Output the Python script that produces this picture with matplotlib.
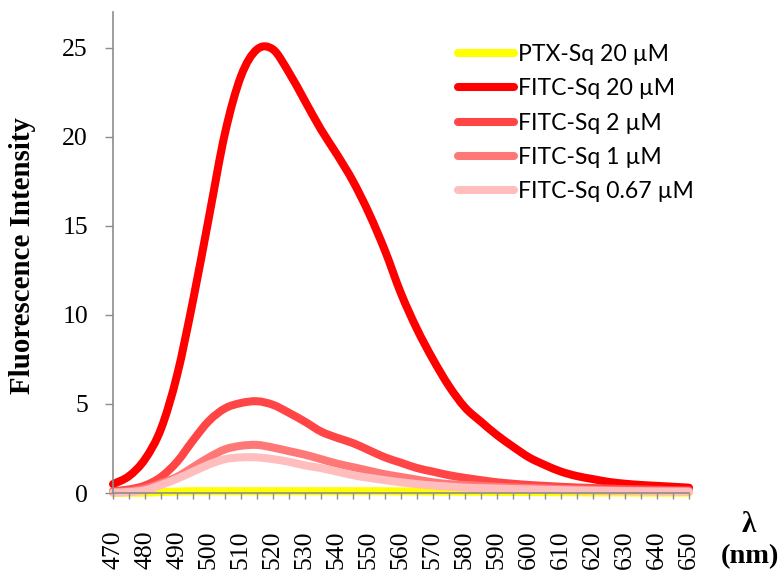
import numpy as np
import matplotlib
matplotlib.use("Agg")
import matplotlib.pyplot as plt
from matplotlib.path import Path
from matplotlib.patches import PathPatch
from matplotlib.lines import Line2D

# wavelength (nm), every 5 nm
wavelength = list(range(470, 655, 5))

ptx_20 = [0.0, 0.01, 0.02, 0.05, 0.08, 0.1, 0.1, 0.1, 0.1, 0.1, 0.1, 0.1, 0.1,
          0.1, 0.1, 0.1, 0.1, 0.1, 0.09, 0.09, 0.08, 0.08, 0.07, 0.07, 0.06, 0.06,
          0.05, 0.05, 0.04, 0.04, 0.03, 0.03, 0.03, 0.02, 0.02, 0.02, 0.02]

fitc_20 = [0.5, 0.95, 1.9, 3.6, 6.6, 10.8, 15.5, 20.2, 23.4, 24.9, 24.9, 23.6,
           22.0, 20.4, 19.0, 17.5, 15.7, 13.6, 11.2, 9.2, 7.5, 6.0, 4.8, 4.0,
           3.25, 2.6, 2.0, 1.57, 1.2, 0.95, 0.78, 0.62, 0.52, 0.45, 0.4, 0.35, 0.3]

fitc_2 = [0.1, 0.2, 0.42, 0.9, 1.75, 2.95, 4.05, 4.75, 5.05, 5.15, 4.95, 4.5, 4.0,
          3.45, 3.1, 2.8, 2.4, 2.0, 1.7, 1.4, 1.2, 1.0, 0.85, 0.72, 0.6, 0.52,
          0.45, 0.4, 0.35, 0.31, 0.28, 0.25, 0.22, 0.2, 0.18, 0.16, 0.15]

fitc_1 = [0.05, 0.1, 0.25, 0.55, 0.9, 1.45, 2.0, 2.45, 2.65, 2.7, 2.55, 2.35,
          2.15, 1.9, 1.65, 1.45, 1.25, 1.05, 0.9, 0.75, 0.6, 0.5, 0.45, 0.4,
          0.35, 0.31, 0.28, 0.25, 0.22, 0.2, 0.18, 0.16, 0.14, 0.13, 0.12, 0.11, 0.1]

fitc_067 = [0.02, 0.05, 0.15, 0.45, 0.8, 1.2, 1.6, 1.9, 2.0, 2.0, 1.9, 1.75,
            1.55, 1.4, 1.2, 1.0, 0.85, 0.72, 0.6, 0.5, 0.42, 0.36, 0.3, 0.27,
            0.25, 0.22, 0.2, 0.18, 0.16, 0.14, 0.13, 0.11, 0.1, 0.09, 0.08, 0.075, 0.07]

series = [
    ("PTX-Sq 20 µM", ptx_20, "#FFFF00"),
    ("FITC-Sq 20 µM", fitc_20, "#FF0000"),
    ("FITC-Sq 2 µM", fitc_2, "#FF4545"),
    ("FITC-Sq 1 µM", fitc_1, "#FF7878"),
    ("FITC-Sq 0.67 µM", fitc_067, "#FFBDBD"),
]


def smooth_path(x, y):
    # Excel-style "smoothed line": cubic Bezier through the data points
    x = np.asarray(x, float)
    y = np.asarray(y, float)
    pts = np.column_stack([x, y])
    verts = [pts[0]]
    codes = [Path.MOVETO]
    n = len(pts)
    for i in range(n - 1):
        p0 = pts[max(i - 1, 0)]
        p1 = pts[i]
        p2 = pts[i + 1]
        p3 = pts[min(i + 2, n - 1)]
        c1 = p1 + (p2 - p0) / 6.0
        c2 = p2 - (p3 - p1) / 6.0
        verts += [c1, c2, p2]
        codes += [Path.CURVE4] * 3
    return Path(verts, codes)


fig = plt.figure(figsize=(7.82, 5.76), dpi=100)
ax = fig.add_axes([113 / 782, 1 - 493 / 576, (689 - 113) / 782, (493 - 12) / 576])

handles = []
for label, vals, col in series:
    patch = PathPatch(smooth_path(wavelength, vals), facecolor="none", edgecolor=col,
                      lw=5.8, capstyle="round", joinstyle="round", clip_on=False)
    ax.add_patch(patch)
    handles.append(Line2D([], [], color=col, lw=5.8, solid_capstyle="round", label=label))

ax.set_xlim(470, 650)
ax.set_ylim(0, 27)

serif = "Liberation Serif"
ax.set_yticks([0, 5, 10, 15, 20, 25])
ax.set_yticklabels(["0", "5", "10", "15", "20", "25"], fontfamily=serif, fontsize=18.5)
ax.set_xticks(wavelength)
ax.set_xticklabels([str(w) if w % 10 == 0 else "" for w in wavelength],
                   rotation=90, fontfamily=serif, fontsize=18.5)

ax.tick_params(axis="y", direction="out", length=6, width=1, color="#8c8c8c", pad=12)
ax.tick_params(axis="x", direction="out", length=4, width=1, color="#8c8c8c", pad=23)

for s in ["top", "right"]:
    ax.spines[s].set_visible(False)
for s in ["left", "bottom"]:
    ax.spines[s].set_color("#8c8c8c")
    ax.spines[s].set_linewidth(1.2)

fig.text(23 / 782, 1 - 256 / 576, "Fluorescence Intensity", rotation=90,
         fontfamily=serif, fontweight="bold", fontsize=20.8, ha="center", va="center")

fig.text(749 / 782, 1 - 524 / 576, "λ", fontfamily=serif, fontweight="bold",
         fontsize=21, ha="center", va="center")
fig.text(750 / 782, 1 - 557 / 576, "(nm)", fontfamily=serif, fontweight="bold",
         fontsize=20.5, ha="center", va="center")

leg = ax.legend(handles=handles, loc="upper left", bbox_to_anchor=(458 / 782, 1 - 44 / 576),
                bbox_transform=fig.transFigure, frameon=False,
                prop={"family": ["Lato", "DejaVu Sans"], "size": 16.6},
                handlelength=2.45, handletextpad=0.15, labelspacing=0.58,
                borderaxespad=0, borderpad=0)

fig.savefig("out.png", dpi=100)
